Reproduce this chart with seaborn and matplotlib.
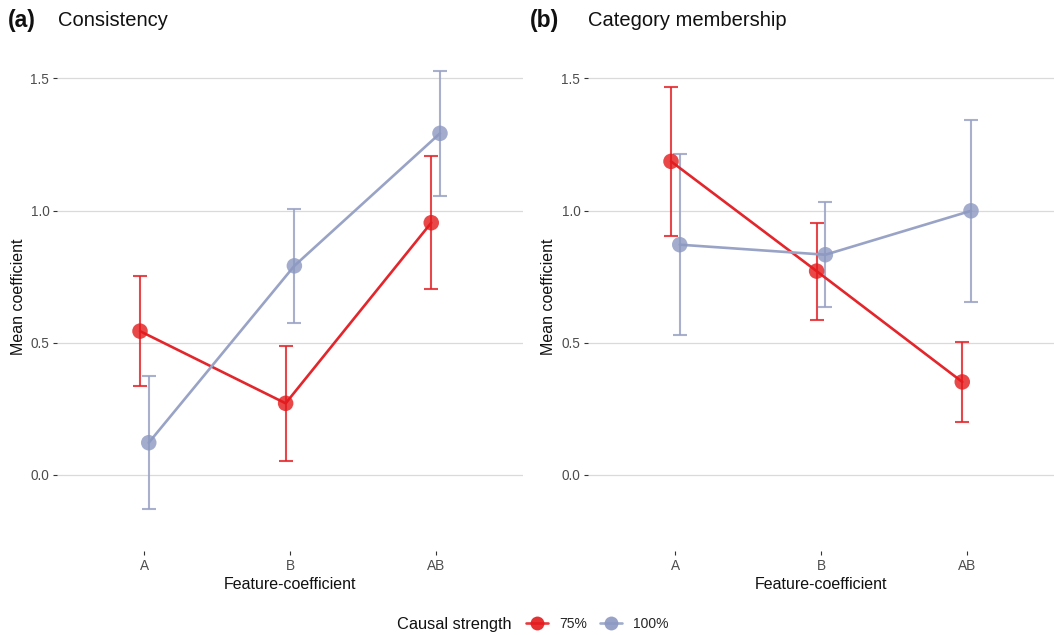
import numpy as np
import pandas as pd
import seaborn as sns
import matplotlib
matplotlib.use("Agg")
import matplotlib.pyplot as plt
from matplotlib.lines import Line2D

# ---------------- data ----------------
features = ["A", "B", "AB"]
strengths = ["75%", "100%"]

consistency_mean_75 = [0.544, 0.271, 0.954]
consistency_lo_75 = [0.336, 0.053, 0.703]
consistency_hi_75 = [0.752, 0.489, 1.207]
consistency_mean_100 = [0.122, 0.791, 1.292]
consistency_lo_100 = [-0.127, 0.573, 1.055]
consistency_hi_100 = [0.374, 1.007, 1.529]

membership_mean_75 = [1.186, 0.771, 0.352]
membership_lo_75 = [0.903, 0.586, 0.200]
membership_hi_75 = [1.469, 0.954, 0.504]
membership_mean_100 = [0.871, 0.833, 0.999]
membership_lo_100 = [0.531, 0.635, 0.654]
membership_hi_100 = [1.215, 1.032, 1.344]

panel_tags = ["(a)", "(b)"]
panel_titles = ["Consistency", "Category membership"]
y_ticks = [0.0, 0.5, 1.0, 1.5]
y_ticklabels = ["0.0", "0.5", "1.0", "1.5"]


def build(m75, lo75, hi75, m100, lo100, hi100):
    rows = []
    for s, m, lo, hi in [("75%", m75, lo75, hi75), ("100%", m100, lo100, hi100)]:
        for f, mv, lv, hv in zip(features, m, lo, hi):
            rows.append(dict(feature=f, strength=s, mean=mv, lo=lv, hi=hv))
    return pd.DataFrame(rows)


dfs = [
    build(consistency_mean_75, consistency_lo_75, consistency_hi_75,
          consistency_mean_100, consistency_lo_100, consistency_hi_100),
    build(membership_mean_75, membership_lo_75, membership_hi_75,
          membership_mean_100, membership_lo_100, membership_hi_100),
]

# ---------------- style ----------------
sns.set_theme(style="white")
plt.rcParams["font.family"] = ["Liberation Sans", "DejaVu Sans"]

line_pal = {"75%": "#E3262B", "100%": "#99A3C6"}
pt_pal = {"75%": "#E41A1C", "100%": "#8C98C0"}
dodge = {"75%": -0.03, "100%": 0.03}

W, H = 1054, 635
fig = plt.figure(figsize=(W / 100, H / 100), dpi=100)

panel_left = [57, 588]
panel_right = [523, 1054]
top_px, bot_px = 42, 551
ylabel_anchor_px = [26, 556]

for i, df in enumerate(dfs):
    l, r = panel_left[i], panel_right[i]
    ax = fig.add_axes([l / W, 1 - bot_px / H, (r - l) / W, (bot_px - top_px) / H])
    df = df.copy()
    df["xpos"] = df["feature"].map({f: k for k, f in enumerate(features)}) + df["strength"].map(dodge)

    for ygrid in y_ticks:
        ax.axhline(ygrid, color="#DADADA", lw=0.9, zorder=0)

    for s in strengths:
        d = df[df["strength"] == s]
        ax.errorbar(d["xpos"], d["mean"], yerr=[d["mean"] - d["lo"], d["hi"] - d["mean"]],
                    fmt="none", ecolor=line_pal[s], elinewidth=1.5, capsize=5, capthick=1.5,
                    alpha=0.85, zorder=2)

    sns.lineplot(data=df, x="xpos", y="mean", hue="strength", hue_order=strengths,
                 palette=line_pal, linewidth=1.9, estimator=None, sort=False,
                 legend=False, ax=ax, zorder=3)
    sns.scatterplot(data=df, x="xpos", y="mean", hue="strength", hue_order=strengths,
                    palette=pt_pal, s=125, alpha=0.8, linewidth=0, legend=False,
                    ax=ax, zorder=4)

    ax.set_xlim(-0.6, 2.6)
    ax.set_ylim(-0.2875, 1.6375)
    ax.set_xticks(range(len(features)))
    ax.set_xticklabels(features)
    ax.set_yticks(y_ticks)
    ax.set_yticklabels(y_ticklabels)
    for sp in ax.spines.values():
        sp.set_visible(False)
    ax.tick_params(axis="both", which="major", length=3, width=0.8, color="#333333",
                   labelcolor="#4D4D4D", labelsize=9.8, pad=2.5, left=True, bottom=True)
    ax.set_xlabel("Feature-coefficient", fontsize=11.5, color="#111111")
    ax.set_ylabel("Mean coefficient", fontsize=11.5, color="#111111")
    ax.xaxis.set_label_coords(0.5, -(577 - bot_px) / (bot_px - top_px))
    ax.yaxis.set_label_coords(-(l - ylabel_anchor_px[i]) / (r - l), 0.5)
    ax.grid(False)

    tag_x = [8, 530][i]
    title_x = [58, 588][i]
    fig.text(tag_x / W, 1 - 20 / H, panel_tags[i], fontsize=16.5, fontweight="bold",
             va="center", ha="left", color="#111111")
    fig.text(title_x / W, 1 - 20 / H, panel_titles[i], fontsize=14.5,
             va="center", ha="left", color="#111111")

# ---------------- legend ----------------
fig.text(397 / W, 1 - 624 / H, "Causal strength", fontsize=11.8, va="center", ha="left",
         color="#111111")
handles = [Line2D([0], [0], color=line_pal[s], lw=1.9, marker="o", markersize=10,
                  markerfacecolor=pt_pal[s], markeredgewidth=0, alpha=0.9) for s in strengths]
fig.legend(handles, strengths, loc="center left", bbox_to_anchor=(526 / W, 1 - 624 / H),
           ncol=2, frameon=False, fontsize=10, handlelength=1.6, handletextpad=0.8,
           columnspacing=0.9, borderpad=0, borderaxespad=0)

fig.savefig("out.png", dpi=100)
